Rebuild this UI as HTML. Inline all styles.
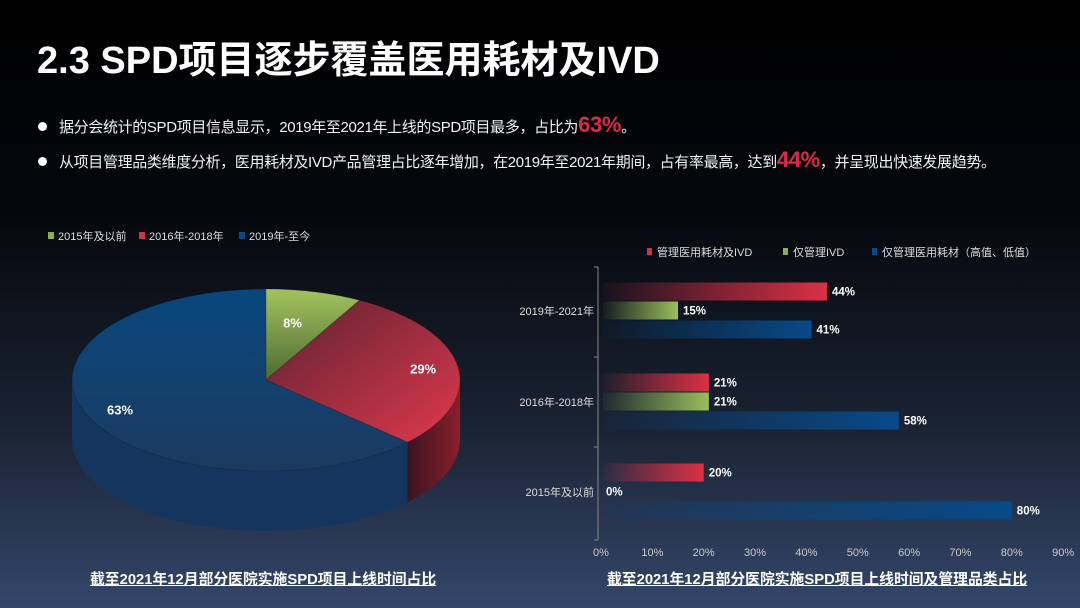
<!DOCTYPE html>
<html><head><meta charset="utf-8">
<style>
html,body{margin:0;padding:0;}
body{width:1080px;height:608px;overflow:hidden;background:linear-gradient(180deg,#000 0%,#05070c 35%,#1a2333 70%,#34466a 100%);font-family:"Liberation Sans","Noto Sans CJK SC",sans-serif;color:#fff;position:relative;}
.title{position:absolute;left:37px;top:29px;font-size:38px;font-weight:bold;letter-spacing:0px;font-family:"Liberation Sans","Noto Sans CJK SC",sans-serif;}
.bullet{position:absolute;left:38px;font-size:15px;letter-spacing:-0.35px;color:#f2f2f2;white-space:nowrap;}
.bullet .dot{display:inline-block;width:9px;height:9px;border-radius:50%;background:#fff;margin-right:12px;vertical-align:middle;position:relative;top:-2px;}
.hl{color:#e0294a;font-size:22px;font-weight:bold;}
.cap{position:absolute;top:568px;font-size:14.8px;font-weight:bold;text-decoration:underline;white-space:nowrap;}
svg{position:absolute;left:0;top:0;}
</style></head>
<body>
<div class="title">2.3 SPD项目逐步覆盖医用耗材及IVD</div>
<div class="bullet" style="top:112px"><span class="dot"></span>据分会统计的SPD项目信息显示，2019年至2021年上线的SPD项目最多，占比为<span class="hl">63%</span>。</div>
<div class="bullet" style="top:147px"><span class="dot"></span>从项目管理品类维度分析，医用耗材及IVD产品管理占比逐年增加，在2019年至2021年期间，占有率最高，达到<span class="hl">44%</span>，并呈现出快速发展趋势。</div>
<svg id="chart" width="1080" height="608">
<defs>
<linearGradient id="gRed" x1="0" x2="1"><stop offset="0" stop-color="#e0324a" stop-opacity="0.05"/><stop offset="1" stop-color="#dc3045"/></linearGradient>
<linearGradient id="gGreen" x1="0" x2="1"><stop offset="0" stop-color="#9bc05a" stop-opacity="0.05"/><stop offset="1" stop-color="#9bbf5a"/></linearGradient>
<linearGradient id="gBlue" x1="0" x2="1"><stop offset="0" stop-color="#064a8a" stop-opacity="0.05"/><stop offset="1" stop-color="#074a88"/></linearGradient>
<linearGradient id="pBlue" x1="0" y1="0" x2="0" y2="1"><stop offset="0" stop-color="#08477d"/><stop offset="1" stop-color="#1c3a60"/></linearGradient>
<linearGradient id="pRed" x1="0" y1="0" x2="1" y2="1"><stop offset="0" stop-color="#5a2230"/><stop offset="1" stop-color="#e0384e"/></linearGradient>
<linearGradient id="pGreen" x1="0" y1="0" x2="0" y2="1"><stop offset="0" stop-color="#a3c35e"/><stop offset="1" stop-color="#4e6a34"/></linearGradient>
<linearGradient id="sRed" x1="0" x2="1"><stop offset="0" stop-color="#3a1420"/><stop offset="1" stop-color="#8a1f2c"/></linearGradient>
</defs>
</svg>
<div class="cap" style="left:90px">截至2021年12月部分医院实施SPD项目上线时间占比</div>
<div class="cap" style="left:607px">截至2021年12月部分医院实施SPD项目上线时间及管理品类占比</div>
<script>
// ---- Pie data ----
const pieLabels = ['2015年及以前','2016年-2018年','2019年-至今'];
const pieValues = [8, 29, 63];
// ---- Bar data ----
const barCategories = ['2019年-2021年','2016年-2018年','2015年及以前'];
const seriesNames = ['管理医用耗材及IVD','仅管理IVD','仅管理医用耗材（高值、低值）'];
const seriesBoth = [44, 21, 20];
const seriesIVD = [15, 21, 0];
const seriesConsumables = [41, 58, 80];
const xTicks = [0,10,20,30,40,50,60,70,80,90];

const NS='http://www.w3.org/2000/svg';
const svg=document.getElementById('chart');
function mk(tag,attrs,parent){const e=document.createElementNS(NS,tag);for(const k in attrs)e.setAttribute(k,attrs[k]);(parent||svg).appendChild(e);return e;}

// ---- Pie ----
const cx=266,cy=380,rx=194,ry=91,depth=60;
const pieFills=['url(#pGreen)','url(#pRed)','url(#pBlue)'];
const sideFills=['#3d5228','url(#sRed)','#14365e'];
const legCols=['#8db04e','#d23246','#0a4a85'];
const total=pieValues.reduce((a,b)=>a+b,0);
function pt(a,dy){return [cx+rx*Math.sin(a), cy-ry*Math.cos(a)+(dy||0)];}
let acc=0;const angles=[];
pieValues.forEach(v=>{const a0=acc/total*2*Math.PI;acc+=v;angles.push([a0,acc/total*2*Math.PI]);});
angles.forEach((ang,i)=>{
  const s=Math.max(ang[0],Math.PI/2), e=Math.min(ang[1],3*Math.PI/2);
  if(e<=s)return;
  let d='';const n=40;
  for(let k=0;k<=n;k++){const p=pt(s+(e-s)*k/n);d+=(k?'L':'M')+p[0].toFixed(1)+','+p[1].toFixed(1);}
  for(let k=n;k>=0;k--){const p=pt(s+(e-s)*k/n,depth);d+='L'+p[0].toFixed(1)+','+p[1].toFixed(1);}
  const el=mk('path',{d:d+'Z',fill:sideFills[i]});
  
  
});
angles.forEach((ang,i)=>{
  const p0=pt(ang[0]),p1=pt(ang[1]);
  const large=(ang[1]-ang[0])>Math.PI?1:0;
  const el=mk('path',{d:`M${cx},${cy}L${p0[0]},${p0[1]}A${rx},${ry} 0 ${large} 1 ${p1[0]},${p1[1]}Z`,fill:pieFills[i],stroke:'rgba(0,0,0,0.15)','stroke-width':1});
  
  
  const mid=(ang[0]+ang[1])/2;
  const lr=i===0?0.55:0.82;
  const t=mk('text',{x:cx+rx*lr*Math.sin(mid),y:cy-ry*lr*Math.cos(mid)+(i===0?-4:5),fill:'#fff','font-size':13,'font-weight':'bold','text-anchor':'middle','font-family':'Liberation Sans, sans-serif'});
  t.textContent=pieValues[i]+'%';
  
  
});
let lx=48;
pieLabels.forEach((l,i)=>{
  const r=mk('rect',{x:lx,y:232,width:6,height:7,fill:legCols[i]});
  
  
  const t=mk('text',{x:lx+10,y:240,fill:'#ddd','font-size':11,'font-family':'Liberation Sans, Noto Sans CJK SC, sans-serif'});
  t.textContent=l;
  
  
  lx+= i===0?91:100;
});

// ---- Bars ----
const x0=601,pxPer=5.135;
function X(v){return x0+v*pxPer;}
const groupCenters=[311,402,492];
const bh=19;
const axisTop=267,axisBot=540;
let ax=mk('line',{x1:598,y1:axisTop,x2:598,y2:axisBot,stroke:'#888','stroke-width':1});


[267,357,447,540].forEach(y=>{const tk=mk('line',{x1:594,y1:y,x2:598,y2:y,stroke:'#888'});

});
const seriesArr=[seriesBoth,seriesIVD,seriesConsumables];
const grads=['url(#gRed)','url(#gGreen)','url(#gBlue)'];
barCategories.forEach((c,ci)=>{
  const t=mk('text',{x:594,y:groupCenters[ci]+4,fill:'#ddd','font-size':11,'text-anchor':'end','font-family':'Liberation Sans, Noto Sans CJK SC, sans-serif'});
  t.textContent=c;
  
  
  seriesArr.forEach((s,si)=>{
    const y=groupCenters[ci]-bh*1.5+si*bh;
    const v=s[ci];
    const r=mk('rect',{x:X(0)+2,y:y,width:Math.max(0,X(v)-X(0)-2),height:bh-1,fill:grads[si]});
    
    
    const lt=mk('text',{x:X(v)+5,y:y+13,fill:'#fff','font-size':11.5,'font-weight':'bold','font-family':'Liberation Sans, sans-serif'});
    lt.textContent=v+'%';
    
    
  });
});
xTicks.forEach(v=>{
  const t=mk('text',{x:X(v),y:556,fill:'#ccc','font-size':11,'text-anchor':'middle','font-family':'Liberation Sans, sans-serif'});
  t.textContent=v+'%';
  
  
});
const legX=[647,783,872];
seriesNames.forEach((n,i)=>{
  const r=mk('rect',{x:legX[i],y:248,width:5,height:7,fill:legCols[[1,0,2][i]]});
  
  
  const t=mk('text',{x:legX[i]+10,y:256,fill:'#ddd','font-size':11,'font-family':'Liberation Sans, Noto Sans CJK SC, sans-serif'});
  t.textContent=n;
  
  
});
</script>
</body></html>
